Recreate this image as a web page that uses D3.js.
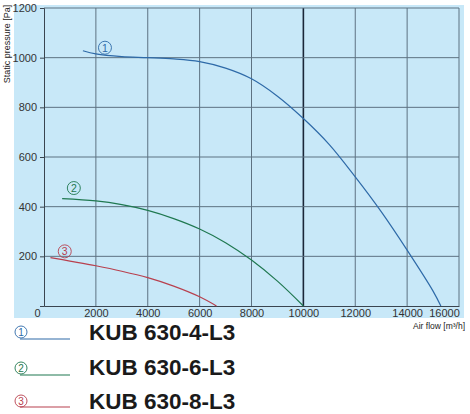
<!DOCTYPE html>
<html><head><meta charset="utf-8">
<script src="https://cdn.jsdelivr.net/npm/d3@7"></script>
<style>body{margin:0;background:#fff}svg{display:block}</style>
</head><body><svg id="c" width="470" height="414"></svg>
<script>
const xTicks = [0,2000,4000,6000,8000,10000,12000,14000,16000];
const yTicks = [200,400,600,800,1000,1200];
const seriesNames = ["KUB 630-4-L3","KUB 630-6-L3","KUB 630-8-L3"];
const seriesIds = ["1","2","3"];
const seriesColors = ["#2e6aa8","#1f7850","#b8404e"];
const curve1 = [[1500,1028],[2000,1015],[3000,1004],[4000,1000],[5000,995],[6000,984],[7000,958],[8000,915],[9000,845],[10000,755],[11000,650],[12000,520],[13000,380],[14000,225],[15000,60],[15300,0]];
const curve2 = [[700,432],[2000,423],[3000,408],[4000,385],[5000,352],[6000,310],[7000,255],[8000,185],[9000,100],[10000,0]];
const curve3 = [[250,195],[1000,181],[2000,162],[3000,140],[4000,114],[5000,80],[6000,37],[6650,0]];
const curves = [curve1,curve2,curve3];
const labelPos = [[2350,1040],[1150,475],[800,220]];

const svg = d3.select("#c");
const x = d3.scaleLinear().domain([0,16000]).range([44,459]);
const y = d3.scaleLinear().domain([0,1200]).range([306,8]);
const font = "'Liberation Sans', Arial, sans-serif";

svg.append("rect").attr("x",14).attr("y",5).attr("width",450).attr("height",313).attr("fill","#c8e8f8");

// grid
const g = svg.append("g");
g.selectAll(".vg").data(xTicks.filter(d=>d>0)).join("line")
  .attr("x1",d=>x(d)).attr("x2",d=>x(d)).attr("y1",y(1200)).attr("y2",y(0))
  .attr("stroke",d=>d===10000?"#1a2638":"#5d7282").attr("stroke-width",d=>d===10000?1.6:1);
g.selectAll(".hg").data(yTicks).join("line")
  .attr("x1",x(0)).attr("x2",x(16000)).attr("y1",d=>y(d)).attr("y2",d=>y(d))
  .attr("stroke","#5d7282").attr("stroke-width",1);

// axes
const fmt = d3.format("d");
const yAxis = d3.axisLeft(y).tickValues(yTicks).tickFormat(fmt).tickSize(4).tickPadding(3);
const ya = svg.append("g").attr("transform",`translate(${x(0)},0)`).call(yAxis);
ya.select(".domain").attr("stroke","#3a4550");
ya.selectAll(".tick line").attr("stroke","#3a4550");
ya.selectAll("text").attr("font-family",font).attr("font-size",11).attr("fill","#333");

const xAxis = d3.axisBottom(x).tickValues(xTicks).tickFormat(fmt).tickSize(0).tickPadding(3);
const xa = svg.append("g").attr("transform",`translate(0,${y(0)})`).call(xAxis);
xa.select(".domain").attr("stroke","#3a4550");
xa.selectAll("text").attr("font-family",font).attr("font-size",11).attr("fill","#333")
  .attr("dx",d=>d===0?-7:(d===16000?-15:0));

svg.append("text").attr("x",465).attr("y",329).attr("text-anchor","end")
  .attr("font-family",font).attr("font-size",8.5).attr("fill","#222").text("Air flow [m³/h]");
svg.append("text").attr("transform","translate(10,44) rotate(-90)").attr("text-anchor","middle")
  .attr("font-family",font).attr("font-size",9).attr("fill","#222").text("Static pressure [Pa]");

// curves
const line = d3.line().x(d=>x(d[0])).y(d=>y(d[1])).curve(d3.curveCatmullRom.alpha(0.5));
curves.forEach((c,i)=>{
  svg.append("path").attr("d",line(c)).attr("fill","none")
    .attr("stroke",seriesColors[i]).attr("stroke-width",1.2);
});

function badge(cx,cy,i,r,fs){
  svg.append("circle").attr("cx",cx).attr("cy",cy).attr("r",r)
    .attr("fill","none").attr("stroke",seriesColors[i]).attr("stroke-width",0.9);
  svg.append("text").attr("x",cx).attr("y",cy+fs*0.36).attr("text-anchor","middle")
    .attr("font-family",font).attr("font-size",fs).attr("fill",seriesColors[i]).text(seriesIds[i]);
}
labelPos.forEach((p,i)=>badge(x(p[0]),y(p[1]),i,6.5,10.5));

// legend
const legCy = [332,368,401];
const legLineY = [339,375,407];
const legBase = [340,375,409];
seriesNames.forEach((n,i)=>{
  badge(21,legCy[i],i,6,10);
  svg.append("line").attr("x1",20).attr("x2",70).attr("y1",legLineY[i]).attr("y2",legLineY[i])
    .attr("stroke",seriesColors[i]).attr("stroke-width",1.2);
  svg.append("text").attr("x",89).attr("y",legBase[i]).attr("font-family",font)
    .attr("font-weight","bold").attr("font-size",22.5).attr("fill","#1a1a1a").text(n);
});
</script></body></html>
